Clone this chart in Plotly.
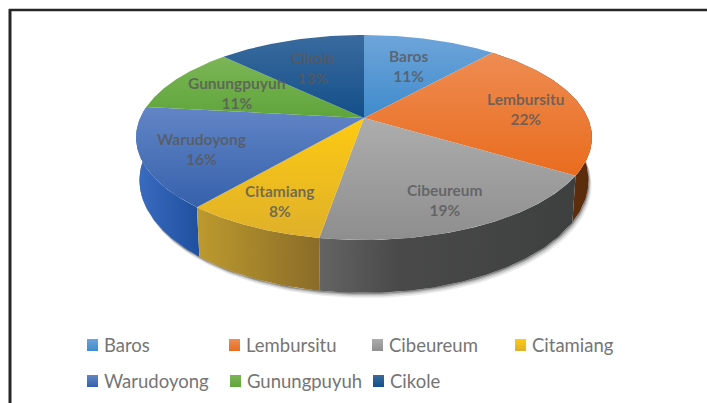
import numpy as np
import plotly.graph_objects as go

categories = ["Baros", "Lembursitu", "Cibeureum", "Citamiang", "Warudoyong", "Gunungpuyuh", "Cikole"]
values = [11.4, 22.4, 18.8, 8.4, 15.8, 10.6, 12.6]
top_colors = [("#6ea5da", "#3f8bcc"), ("#ee8c52", "#e96c1e"), ("#adadad", "#8e8e8e"), ("#fdca12", "#dfb02a"),
              ("#6285c6", "#3561ab"), ("#7cb556", "#5fa53b"), ("#3a6b9e", "#134f8a")]
wall_colors = [None, ("#6a3511", "#5a2c0c"), ("#626262", "#3f3f3f"), ("#bd9a2e", "#8a6c28"),
               ("#3a6cc0", "#1f4f9f"), None, None]
label_xy = [(408, 66), (525, 109), (445, 200), (280, 201), (201, 149), (237, 93), (312, 68)]
legend_xy = [(87, 345), (229, 345), (372, 345), (515, 345), (87, 381), (230, 381), (373, 381)]

CX, CY, A, B, K = 364.0, 118.0, 223.8, 98.8, 0.19
SX, SY, DY = 0.985, 1.10, 40.8


def project(theta):
    u, v = np.sin(theta), -np.cos(theta)
    w = 1 - K * v
    return CX + A * u / w, CY + B * v / w


def lower(x, y):
    return CX + (x - CX) * SX, CY + DY + (y - CY) * SY


fracs = np.cumsum([0] + values) / sum(values) * 2 * np.pi
fig = go.Figure()


def poly(xs, ys, c0, c1, orient="vertical"):
    fig.add_trace(go.Scatter(
        x=list(xs), y=list(ys), mode="lines", line=dict(width=0), fill="toself",
        fillgradient=dict(type=orient, colorscale=[[0, c0], [1, c1]]),
        showlegend=False, hoverinfo="skip"))


# soft shadow under the rim
tt = np.linspace(np.pi * 0.40, np.pi * 1.62, 160)
for off, alpha in [(5, 0.10), (3.5, 0.16), (2, 0.26), (1, 0.35)]:
    x0, y0 = lower(*project(tt))
    xs = np.r_[x0, x0[::-1] + off * 0.6]
    ys = np.r_[y0, y0[::-1] + off]
    fig.add_trace(go.Scatter(x=xs, y=ys, mode="lines", line=dict(width=0), fill="toself",
                             fillcolor=f"rgba(60,60,60,{alpha})", showlegend=False, hoverinfo="skip"))

# walls, back to front
for i in [1, 4, 3, 2]:
    t = np.linspace(fracs[i], fracs[i + 1], 80)
    x, y = project(t)
    xl, yl = lower(x, y)
    c0, c1 = wall_colors[i]
    poly(np.r_[x, xl[::-1]], np.r_[y, yl[::-1]], c0, c1, "horizontal")
    if i == 2:
        fig.data[-1].fillgradient.colorscale = [[0, "#646464"], [0.3, "#4a4a4a"], [1, "#3e3f3f"]]

# top surface (gradient runs from the lower edge up on screen)
for i in range(len(values)):
    t = np.linspace(fracs[i], fracs[i + 1], 80)
    x, y = project(t)
    poly(np.r_[CX, x, CX], np.r_[CY, y, CY], top_colors[i][1], top_colors[i][0])

# slice labels
for i, name in enumerate(categories):
    pct = round(values[i] / sum(values) * 100)
    fig.add_annotation(x=label_xy[i][0], y=label_xy[i][1], text=f"<b>{name}<br>{pct}%</b>",
                       showarrow=False, font=dict(family="Lato", size=15.5, color="rgba(89,89,89,0.82)"),
                       align="center")

# legend
for i, name in enumerate(categories):
    lx, ly = legend_xy[i]
    poly([lx, lx + 11, lx + 11, lx, lx], [ly - 6, ly - 6, ly + 6, ly + 6, ly - 6],
         top_colors[i][1], top_colors[i][0])
    fig.add_annotation(x=lx + 15, y=ly, text=name, xanchor="left", showarrow=False,
                       font=dict(family="Lato", size=18.5, color="#757575"))

fig.update_layout(
    width=707, height=403, margin=dict(l=0, r=0, t=0, b=0),
    paper_bgcolor="white", plot_bgcolor="white", showlegend=False,
    xaxis=dict(range=[0, 707], visible=False, fixedrange=True),
    yaxis=dict(range=[403, 0], visible=False, fixedrange=True),
    shapes=[
        dict(type="line", x0=9, x1=707, y0=10, y1=10, line=dict(color="#262626", width=2.5)),
        dict(type="line", x0=10, x1=10, y0=9, y1=403, line=dict(color="#262626", width=3)),
    ],
)
fig.write_html("out.html", config={"displayModeBar": False},
               post_script="document.body.style.margin='0';document.documentElement.style.overflow='hidden';")
